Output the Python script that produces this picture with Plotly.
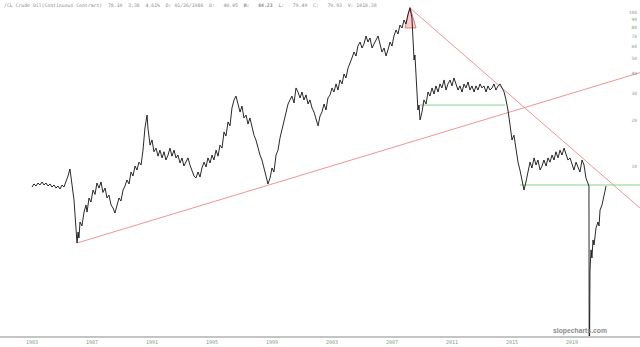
import plotly.graph_objects as go

# ---- data ----
years = [
    1983.00, 1983.13, 1983.27, 1983.40, 1983.53, 1983.67, 1983.80, 1983.93, 1984.07, 1984.20,
    1984.33, 1984.47, 1984.60, 1984.73, 1984.87, 1985.00, 1985.13, 1985.27, 1985.40, 1985.53,
    1985.60, 1985.67, 1985.80, 1985.87, 1985.93, 1986.00,
    1986.07, 1986.13, 1986.20, 1986.33, 1986.47, 1986.60, 1986.67, 1986.80, 1986.93, 1987.07,
    1987.20, 1987.33, 1987.47, 1987.60, 1987.73, 1987.87, 1988.00, 1988.13, 1988.27, 1988.40,
    1988.53, 1988.67, 1988.80, 1988.93, 1989.07, 1989.20, 1989.33, 1989.47, 1989.60, 1989.73,
    1989.87, 1990.00, 1990.13, 1990.27, 1990.40, 1990.53, 1990.67, 1990.73, 1990.87, 1991.00,
    1991.13,
    1991.27, 1991.40, 1991.53, 1991.67, 1991.80, 1991.93, 1992.07, 1992.20, 1992.33, 1992.47,
    1992.60, 1992.73, 1992.87, 1993.00, 1993.13, 1993.27, 1993.40, 1993.53, 1993.67, 1993.80,
    1993.93, 1994.07, 1994.20, 1994.33, 1994.47, 1994.60, 1994.73, 1994.87, 1995.00, 1995.13,
    1995.27, 1995.40, 1995.53, 1995.67, 1995.80, 1995.93, 1996.07, 1996.20, 1996.33, 1996.47,
    1996.60, 1996.73, 1996.87, 1997.00, 1997.13, 1997.27, 1997.40, 1997.53, 1997.67, 1997.80,
    1997.93, 1998.07, 1998.20, 1998.33, 1998.47, 1998.60, 1998.73, 1998.87, 1999.00, 1999.13,
    1999.27, 1999.40, 1999.53, 1999.67, 1999.80, 1999.93, 2000.07, 2000.20, 2000.33, 2000.47,
    2000.60, 2000.73, 2000.87, 2001.00, 2001.13, 2001.27, 2001.40, 2001.53, 2001.67, 2001.80,
    2001.93, 2002.07, 2002.20, 2002.33, 2002.47, 2002.60, 2002.73, 2002.87, 2003.00, 2003.13,
    2003.27, 2003.40, 2003.53, 2003.67, 2003.80, 2003.93, 2004.07, 2004.20, 2004.33, 2004.47,
    2004.60, 2004.73, 2004.87, 2005.00, 2005.13, 2005.27, 2005.40, 2005.53, 2005.67, 2005.80,
    2005.93, 2006.07, 2006.20, 2006.33, 2006.47, 2006.60, 2006.73, 2006.87, 2007.00, 2007.13,
    2007.27, 2007.40, 2007.53, 2007.67, 2007.80, 2007.93, 2008.07, 2008.20, 2008.33, 2008.40,
    2008.47, 2008.53, 2008.60, 2008.67, 2008.73, 2008.80, 2008.87, 2009.00, 2009.13, 2009.27,
    2009.40, 2009.53, 2009.67, 2009.80, 2009.93, 2010.07, 2010.20, 2010.33, 2010.47, 2010.60,
    2010.73, 2010.87, 2011.00, 2011.13, 2011.27, 2011.40, 2011.53, 2011.67, 2011.80, 2011.93,
    2012.07, 2012.20, 2012.33, 2012.47, 2012.60, 2012.73, 2012.87, 2013.00, 2013.13, 2013.27,
    2013.40, 2013.53, 2013.67, 2013.80, 2013.93, 2014.07, 2014.20, 2014.33, 2014.47, 2014.60,
    2014.73, 2014.87, 2015.00, 2015.13, 2015.27, 2015.40, 2015.53, 2015.67, 2015.80, 2015.93,
    2016.07, 2016.20, 2016.33, 2016.47, 2016.60, 2016.73, 2016.87, 2017.00, 2017.13, 2017.27,
    2017.40, 2017.53, 2017.67, 2017.80, 2017.93, 2018.07, 2018.20, 2018.33, 2018.47, 2018.60,
    2018.73, 2018.87, 2019.00, 2019.13, 2019.27, 2019.40, 2019.53, 2019.67, 2019.80, 2019.93,
    2020.07, 2020.13, 2020.15, 2020.20, 2020.27, 2020.33, 2020.40, 2020.47, 2020.60, 2020.73,
    2020.80, 2020.87, 2021.00, 2021.13, 2021.27,
]
prices = [
    7.38, 7.73, 7.50, 7.84, 7.61, 7.96, 7.61, 7.84, 7.50, 7.73,
    7.38, 7.61, 7.27, 7.50, 7.17, 7.61, 7.38, 7.96, 8.70, 9.66,
    8.83, 7.61, 6.08, 4.86, 3.61, 3.20,
    3.77, 3.45, 4.38, 4.13, 5.08, 5.65, 5.08, 6.27, 5.90, 7.06,
    6.61, 7.84, 7.27, 7.96, 6.81, 7.27, 6.27, 6.55, 5.65, 5.40,
    5.01, 5.73, 6.27, 5.99, 7.06, 7.50, 8.20, 7.73, 9.24, 8.70,
    10.1, 9.52, 10.7, 10.26, 12.8, 17.8, 21.6, 17.8, 13.8, 14.9,
    12.5,
    13.2, 11.7, 12.8, 11.4, 12.5, 11.05, 11.9, 13.2, 11.7, 12.8,
    11.4, 11.9, 10.57, 11.4, 10.1, 10.7, 11.4, 10.26, 9.52, 8.70,
    8.45, 9.24, 8.57, 9.81, 10.7, 9.96, 11.4, 10.57, 11.9, 11.05,
    12.8, 11.7, 13.8, 13.2, 16.8, 15.8, 19.5, 18.4, 24.0, 27.1,
    28.7, 25.1, 22.6, 24.7, 20.7, 21.6, 18.9, 20.7, 17.8, 16.0,
    14.9, 13.2, 11.9, 11.05, 9.52, 8.70, 7.73, 8.45, 9.81, 9.24,
    11.9, 12.8, 15.3, 17.3, 20.1, 22.6, 25.5, 27.1, 28.7, 25.9,
    32.4, 30.5, 27.9, 30.5, 27.1, 29.2, 25.5, 27.1, 24.0, 22.6,
    20.1, 18.4, 21.3, 22.6, 25.5, 23.3, 27.9, 29.2, 32.4, 30.5,
    34.4, 31.4, 36.5, 34.4, 39.9, 37.6, 43.6, 47.7, 50.7, 55.4,
    52.2, 60.6, 64.3, 58.8, 62.4, 70.3, 64.3, 68.3, 58.8, 62.4,
    66.3, 70.3, 62.4, 55.4, 58.8, 52.2, 57.1, 64.3, 60.6, 70.3,
    76.9, 72.5, 82.9, 79.3, 89.3, 84.1, 97.7, 106.8, 92.0, 66.3,
    49.2, 53.0, 36.5, 29.2, 23.3, 25.1, 20.1, 22.6, 27.1, 25.5,
    30.5, 28.7, 32.4, 29.6, 33.4, 30.5, 34.4, 32.4, 36.5, 31.4,
    34.4, 36.5, 33.4, 37.6, 34.4, 31.4, 33.4, 30.5, 34.4, 32.4,
    35.4, 31.4, 33.4, 30.5, 33.4, 31.4, 34.4, 32.4, 33.4, 30.5,
    33.4, 31.4, 32.4, 34.4, 31.4, 33.4, 34.4, 32.4, 30.5, 27.1,
    23.3, 18.6, 14.9, 16.0, 12.8, 10.7, 9.52, 8.20, 7.06, 7.96,
    9.52, 10.7, 9.81, 11.4, 10.26, 11.05, 9.52, 10.1, 11.05, 10.1,
    11.4, 10.7, 11.9, 11.05, 12.5, 11.4, 12.8, 11.9, 13.2, 12.1,
    11.05, 11.4, 10.26, 9.52, 10.7, 9.81, 9.24, 11.05, 10.26, 8.45,
    7.84, 7.50, 0.3, 2.14, 2.89, 2.56, 3.35, 3.11, 4.01, 4.38,
    4.13, 5.24, 5.65, 6.55, 7.50,
]

tick_years = [1983, 1987, 1991, 1995, 1999, 2003, 2007, 2011, 2015, 2019]
tick_year_labels = ["1983", "1987", "1991", "1995", "1999", "2003", "2007", "2011", "2015", "2019"]
price_ticks = [10, 20, 30, 40, 50, 60, 70, 80, 90, 100]
price_tick_labels = ["10", "20", "30", "40", "50", "60", "70", "80", "90", "100"]

# trendlines / levels drawn on the chart (year, price)
rising_trend_x = [1986.00, 2023.53]
rising_trend_y = [3.20, 40.7]
falling_trend_x = [2008.20, 2023.53]
falling_trend_y = [106.8, 5.40]
support_2009_x = [2008.87, 2014.53]
support_2009_y = [25.1, 25.1]
support_2016_x = [2015.53, 2023.53]
support_2016_y = [7.61, 7.61]
peak_tri_x = [2007.87, 2008.20, 2008.60, 2007.87]
peak_tri_y = [79.3, 108.5, 79.3, 79.3]

header = ("/CL Crude Oil(Continuous Contract)  78.10  3.38  4.61%  D: 01/26/1986  O:   40.05  "
          "<b>H:</b>   <b>84.23</b>  L:   79.49  C:   79.93  V: 1018.38")

fig = go.Figure()

fig.add_trace(go.Scatter(x=peak_tri_x, y=peak_tri_y, mode="lines", fill="toself",
                         fillcolor="rgba(235,120,120,0.35)",
                         line=dict(color="rgba(220,60,60,0.8)", width=0.8),
                         hoverinfo="skip"))
fig.add_trace(go.Scatter(x=rising_trend_x, y=rising_trend_y, mode="lines",
                         line=dict(color="#ee8888", width=0.9)))
fig.add_trace(go.Scatter(x=falling_trend_x, y=falling_trend_y, mode="lines",
                         line=dict(color="#ee8888", width=0.9)))
fig.add_trace(go.Scatter(x=support_2009_x, y=support_2009_y, mode="lines",
                         line=dict(color="#7fc97f", width=0.9)))
fig.add_trace(go.Scatter(x=support_2016_x, y=support_2016_y, mode="lines",
                         line=dict(color="#7fc97f", width=0.9)))
fig.add_trace(go.Scatter(x=years, y=prices, mode="lines",
                         line=dict(color="#111111", width=0.9)))

fig.update_layout(
    width=640, height=347,
    margin=dict(l=0, r=0, t=0, b=11),
    paper_bgcolor="white", plot_bgcolor="white",
    showlegend=False,
    xaxis=dict(range=[1980.867, 2023.533], tickvals=tick_years, ticktext=tick_year_labels,
               showgrid=False, zeroline=False, showline=True, linecolor="#c4c4c4",
               linewidth=1.5, ticks="", tickfont=dict(size=5, color="#7aa07a",
                                                       family="DejaVu Sans Mono")),
    yaxis=dict(type="log", range=[-0.0975, 2.0806], tickvals=price_ticks,
               ticktext=price_tick_labels, side="right", ticklabelposition="inside",
               showgrid=False, zeroline=False, showline=False, ticks="",
               tickfont=dict(size=4.5, color="#8aa08a", family="DejaVu Sans Mono")),
    annotations=[
        dict(text=header, x=0.003, y=0.997, xref="paper", yref="paper",
             xanchor="left", yanchor="top", showarrow=False,
             font=dict(size=4.8, color="#8a8a8a", family="DejaVu Sans Mono")),
        dict(text="<b>slopecharts.com</b>", x=0.951, y=0.016, xref="paper", yref="paper",
             xanchor="right", yanchor="middle", showarrow=False,
             font=dict(size=6.8, color="#8c8c8c", family="Liberation Sans")),
    ],
)

fig.write_html("out.html")
